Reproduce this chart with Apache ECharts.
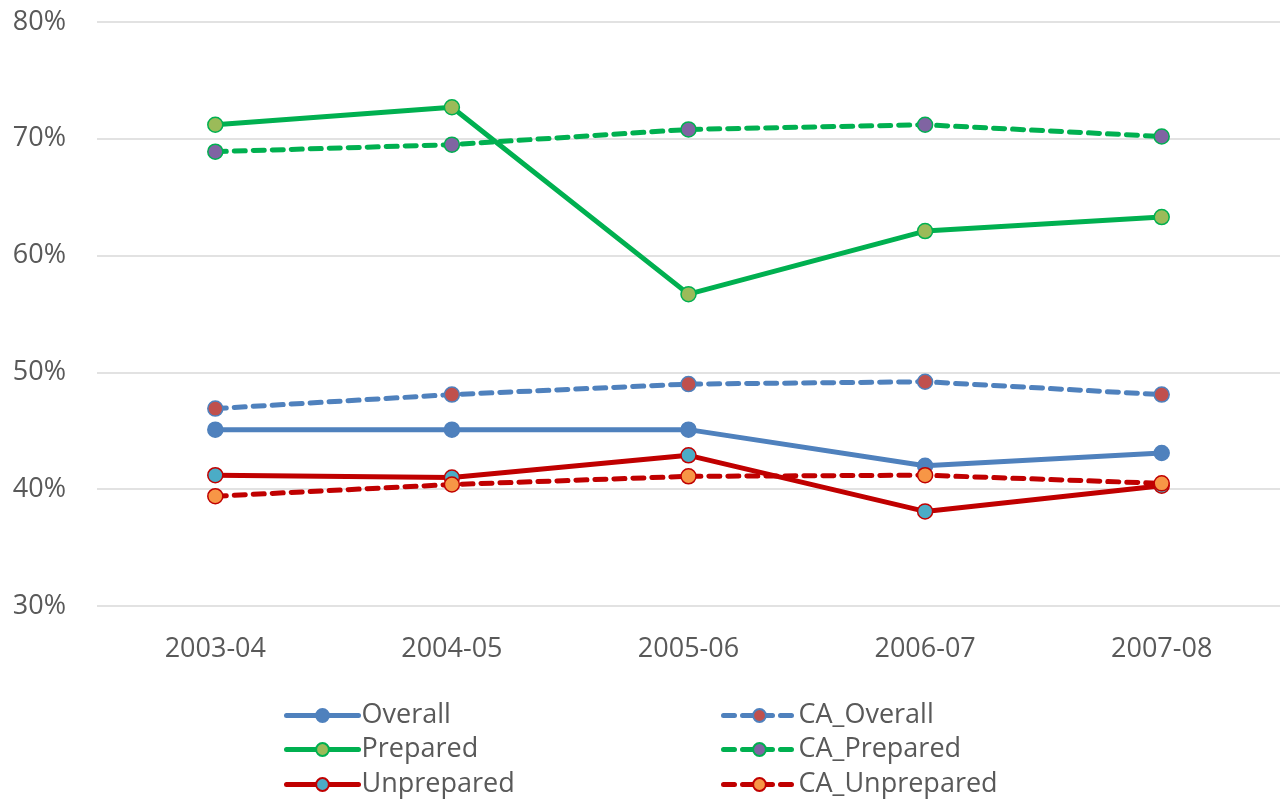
<!DOCTYPE html>
<html><head><meta charset="utf-8">
<script src="https://cdn.jsdelivr.net/npm/echarts@6/dist/echarts.min.js"></script>
<style>html,body{margin:0;padding:0;background:#fff}#c{width:1283px;height:801px}</style>
</head><body><div id="c"></div>
<script>
const categories = ['2003-04','2004-05','2005-06','2006-07','2007-08'];
const overall = [45.1, 45.1, 45.1, 42.0, 43.1];
const prepared = [71.2, 72.7, 56.7, 62.1, 63.3];
const unprepared = [41.2, 41.0, 42.9, 38.1, 40.3];
const caOverall = [46.9, 48.1, 49.0, 49.2, 48.1];
const caPrepared = [68.9, 69.5, 70.8, 71.2, 70.2];
const caUnprepared = [39.4, 40.4, 41.1, 41.2, 40.5];
const yTicks = [30, 40, 50, 60, 70, 80];

const BLUE = '#4F81BD', GREEN = '#00B050', RED = '#C00000';
function mk(name, data, lineColor, fill, border, dashed) {
  return {
    name, type: 'line', data,
    symbol: 'circle', symbolSize: 15,
    lineStyle: { color: lineColor, width: 5, type: dashed ? [11, 8] : 'solid', cap: 'round' },
    itemStyle: { color: fill, borderColor: border, borderWidth: 1.5 },
    emphasis: { disabled: true }
  };
}
const chart = echarts.init(document.getElementById('c'));
const font = 'Open Sans';
const legendPos = [
  ['Overall', 284, 702], ['Prepared', 284, 736], ['Unprepared', 284, 771],
  ['CA_Overall', 721, 702], ['CA_Prepared', 721, 736], ['CA_Unprepared', 721, 771]
];
chart.setOption({
  animation: false,
  grid: { left: 97, right: 3, top: 22, bottom: 195 },
  xAxis: {
    type: 'category', data: categories, boundaryGap: true,
    axisLine: { show: false }, axisTick: { show: false },
    axisLabel: { fontSize: 27, color: '#595959', fontFamily: font, margin: 30 }
  },
  yAxis: {
    type: 'value', min: yTicks[0], max: yTicks[yTicks.length - 1], interval: 10,
    axisLine: { show: false }, axisTick: { show: false },
    splitLine: { lineStyle: { color: '#D9D9D9', width: 1.5 } },
    axisLabel: { fontSize: 27, color: '#595959', fontFamily: font, margin: 31, formatter: v => v + '%' }
  },
  legend: legendPos.map(([n, x, y]) => ({
    left: x, top: y, itemWidth: 72, itemHeight: 16, padding: 0,
    lineStyle: { width: 5 },
    textStyle: { fontSize: 27, color: '#595959', fontFamily: font, padding: [0, 0, 0, -2] },
    data: [n]
  })),
  series: [
    mk('Overall', overall, BLUE, BLUE, BLUE, false),
    mk('Prepared', prepared, GREEN, '#9BBB59', GREEN, false),
    mk('Unprepared', unprepared, RED, '#4BACC6', RED, false),
    mk('CA_Overall', caOverall, BLUE, '#C0504D', BLUE, true),
    mk('CA_Prepared', caPrepared, GREEN, '#8064A2', GREEN, true),
    mk('CA_Unprepared', caUnprepared, RED, '#F79646', RED, true)
  ]
});
</script></body></html>
